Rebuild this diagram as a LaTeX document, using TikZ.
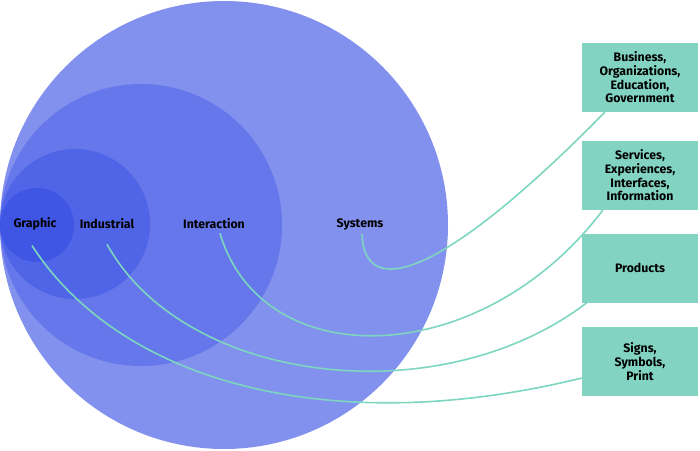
\documentclass[tikz,border=0pt]{standalone}
\usepackage{fontspec}
\setmainfont{Fira Sans}
\usepackage{tikz}
\usetikzlibrary{calc}
\definecolor{ringone}{RGB}{ 130, 145, 238 }
\definecolor{ringtwo}{RGB}{ 101, 119, 234 }
\definecolor{ringthree}{RGB}{ 80, 100, 231 }
\definecolor{ringfour}{RGB}{ 63, 85, 228 }
\definecolor{mint}{RGB}{ 130, 211, 194 }
\definecolor{mintline}{RGB}{ 125, 214, 192 }

\begin{document}
\begin{tikzpicture}[x=1pt,y=-1pt,font=\fontsize{12.3}{13.7}\selectfont\bfseries]
\tikzstyle{ring}=[circle,inner sep=0,outer sep=0]
\tikzstyle{field}=[inner sep=0,text=black]
\tikzstyle{scope box}=[fill=mint,minimum width=116pt,minimum height=69pt,align=center,inner sep=2pt]
\tikzstyle{link}=[mintline,line width=1.6pt]

\useasboundingbox (0,0) rectangle (700,450);

% nested disciplines
\node(systemsring)[ring,fill=ringone,minimum size=448pt] at (224,225) {};
\node(interring)[ring,fill=ringtwo,minimum size=282pt] at (141,225) {};
\node(indring)[ring,fill=ringthree,minimum size=150pt] at (75,224) {};
\node(graphring)[ring,fill=ringfour,minimum size=74pt] at (37,225) {};

\node(graphic)[field] at (35,224) {Graphic};
\node(industrial)[field] at (107,224) {Industrial};
\node(interaction)[field] at (214,224) {Interaction};
\node(systems)[field] at (360,224) {Systems};

% what each one shapes
\node(org)[scope box] at (640,77.5) {Business,\\Organizations,\\Education,\\Government};
\node(services)[scope box] at (640,175.5) {Services,\\Experiences,\\Interfaces,\\Information};
\node(products)[scope box] at (640,268) {Products};
\node(signs)[scope box] at (640,361.5) {Signs,\\Symbols,\\Print};

% connectors
\draw[link] ($(systems.south)+(2,4)$) .. controls (364,300) and (440,280) .. ($(org.south west)+(23,0)$);
\draw[link] ($(interaction.south)+(6,4)$) .. controls (262,375) and (480,372) .. ($(services.south west)+(21,0)$);
\draw[link] ($(industrial.south)+(0,15)$) .. controls (185,385) and (440,415) .. ($(products.south west)+(5,0)$);
\draw[link] ($(graphic.south)+(-3,15)$) .. controls (120,382) and (330,440) .. ($(signs.west)+(0,16.5)$);

\end{tikzpicture}
\end{document}
